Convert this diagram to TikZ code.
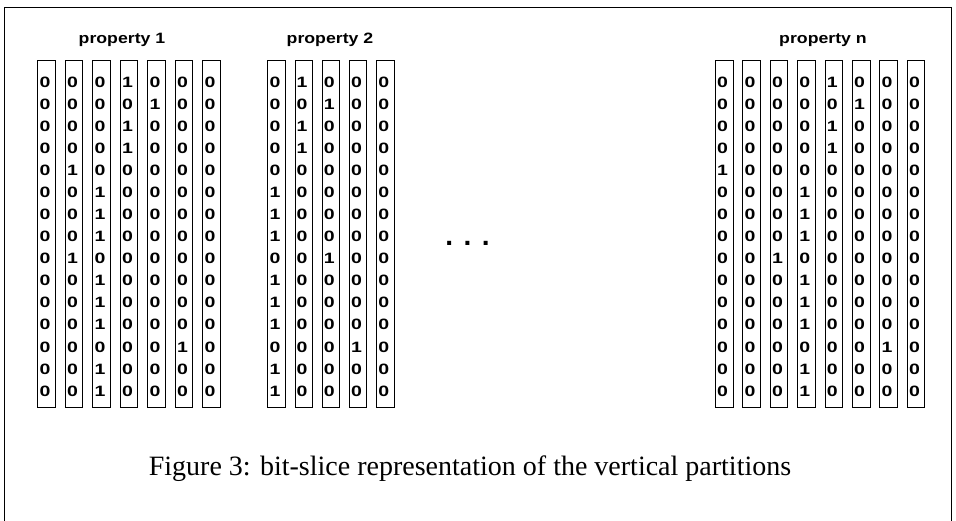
\documentclass[tikz,border=0pt]{standalone}
\usepackage{fontspec}
\setmainfont{Liberation Serif}
\newfontfamily\arialfont{Liberation Sans}
\usepackage{tikz}

\tikzset{
  slice/.style={draw, line width=0.9pt, anchor=north west, inner sep=0pt,
    minimum width=17.5pt, minimum height=347pt},
  bit/.style={anchor=west, inner sep=0pt,
    font=\arialfont\bfseries\fontsize{15}{15}\selectfont},
  proplabel/.style={inner sep=0pt, font=\arialfont\bfseries\fontsize{15}{15}\selectfont}
}
\newcommand\bitcol[3]{%
  \node[slice] (#1) at (#2,60) {};
  \foreach \b [count=\r] in {#3}
    \node[bit] (#1-\r) at (#2+2,{82+22.07*(\r-1)}) {\scalebox{1.3}[1]{\b}};
}

\begin{document}
\begin{tikzpicture}[x=1pt,y=-1pt]
\useasboundingbox (0,0) rectangle (956,520);
\draw[line width=0.9pt] (4,522) -- (4,7) -- (951,7) -- (951,522);

\node[proplabel] (lab1) at (122,40) {\scalebox{1.18}[1]{property 1}};
\node[proplabel] (lab2) at (330,40) {\scalebox{1.18}[1]{property 2}};
\node[proplabel] (labn) at (823,40) {\scalebox{1.18}[1]{property n}};

\bitcol{pa1}{37.3}{0,0,0,0,0,0,0,0,0,0,0,0,0,0,0}
\bitcol{pa2}{64.8}{0,0,0,0,1,0,0,0,1,0,0,0,0,0,0}
\bitcol{pa3}{92.3}{0,0,0,0,0,1,1,1,0,1,1,1,0,1,1}
\bitcol{pa4}{119.8}{1,0,1,1,0,0,0,0,0,0,0,0,0,0,0}
\bitcol{pa5}{147.3}{0,1,0,0,0,0,0,0,0,0,0,0,0,0,0}
\bitcol{pa6}{174.8}{0,0,0,0,0,0,0,0,0,0,0,0,1,0,0}
\bitcol{pa7}{202.3}{0,0,0,0,0,0,0,0,0,0,0,0,0,0,0}

\bitcol{pb1}{267.3}{0,0,0,0,0,1,1,1,0,1,1,1,0,1,1}
\bitcol{pb2}{294.5}{1,0,1,1,0,0,0,0,0,0,0,0,0,0,0}
\bitcol{pb3}{321.7}{0,1,0,0,0,0,0,0,1,0,0,0,0,0,0}
\bitcol{pb4}{348.9}{0,0,0,0,0,0,0,0,0,0,0,0,1,0,0}
\bitcol{pb5}{376.1}{0,0,0,0,0,0,0,0,0,0,0,0,0,0,0}

\node[inner sep=0pt, font=\arialfont\bfseries\fontsize{28}{28}\selectfont] (dots) at (467.5,243) {. . .};

\bitcol{pn1}{715.0}{0,0,0,0,1,0,0,0,0,0,0,0,0,0,0}
\bitcol{pn2}{742.4}{0,0,0,0,0,0,0,0,0,0,0,0,0,0,0}
\bitcol{pn3}{769.8}{0,0,0,0,0,0,0,0,1,0,0,0,0,0,0}
\bitcol{pn4}{797.2}{0,0,0,0,0,1,1,1,0,1,1,1,0,1,1}
\bitcol{pn5}{824.6}{1,0,1,1,0,0,0,0,0,0,0,0,0,0,0}
\bitcol{pn6}{852.0}{0,1,0,0,0,0,0,0,0,0,0,0,0,0,0}
\bitcol{pn7}{879.4}{0,0,0,0,0,0,0,0,0,0,0,0,1,0,0}
\bitcol{pn8}{906.8}{0,0,0,0,0,0,0,0,0,0,0,0,0,0,0}

\node[anchor=base, inner sep=0pt, font=\fontsize{28}{30}\selectfont] (caption) at (470,475) {Figure 3: bit-slice representation of the vertical partitions};
\end{tikzpicture}
\end{document}
